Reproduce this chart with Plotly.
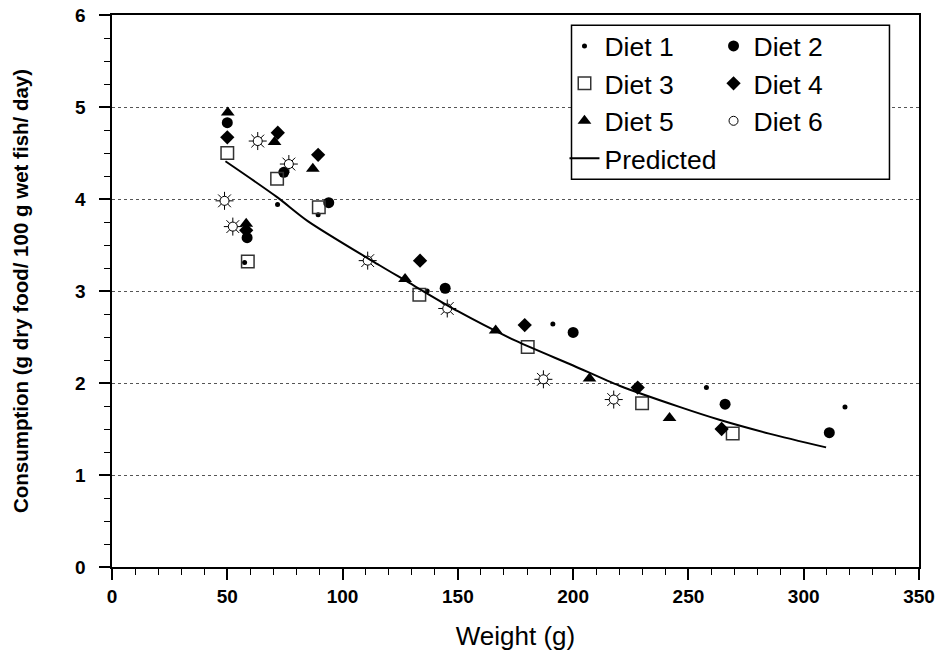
import plotly.graph_objects as go

# ---- data ----
diet1_x = [57.5, 71.8, 89.4, 136.7, 191.2, 257.8, 317.9]
diet1_y = [3.31, 3.94, 3.83, 3.00, 2.64, 1.95, 1.74]

diet2_x = [50.0, 58.6, 74.5, 94.0, 144.5, 200.0, 265.9, 311.1]
diet2_y = [4.83, 3.58, 4.29, 3.96, 3.03, 2.55, 1.77, 1.46]

diet3_x = [50.0, 58.9, 71.6, 89.7, 133.3, 180.3, 229.9, 269.2]
diet3_y = [4.50, 3.32, 4.22, 3.91, 2.96, 2.39, 1.78, 1.45]

diet4_x = [50.0, 58.2, 71.9, 89.4, 133.6, 179.0, 228.0, 264.4]
diet4_y = [4.67, 3.66, 4.72, 4.48, 3.33, 2.63, 1.95, 1.50]

diet5_x = [50.2, 58.2, 70.5, 87.1, 127.1, 166.4, 207.1, 241.8]
diet5_y = [4.94, 3.73, 4.62, 4.33, 3.13, 2.57, 2.05, 1.62]

diet6_x = [48.8, 52.4, 63.2, 76.7, 110.9, 145.4, 187.1, 217.6]
diet6_y = [3.98, 3.70, 4.63, 4.38, 3.33, 2.81, 2.04, 1.82]

pred_x = [49.2, 71.6, 84.9, 116.0, 126.8, 150.0, 175.0, 200.0, 220.1, 246.1, 263.4, 285.0, 309.7]
pred_y = [4.41, 4.02, 3.76, 3.28, 3.12, 2.78, 2.46, 2.19, 1.97, 1.74, 1.60, 1.45, 1.30]

x_ticks = [0, 50, 100, 150, 200, 250, 300, 350]
y_ticks = [0, 1, 2, 3, 4, 5, 6]

FONT = "Arial, 'Liberation Sans', sans-serif"

fig = go.Figure()

def add(x, y, name, symbol, size, legend, color="black", lw=0, show=True, group=None):
    fig.add_trace(go.Scatter(
        x=x, y=y, mode="markers", name=name, showlegend=show,
        legend=legend, legendgroup=group or name,
        marker=dict(symbol=symbol, size=size, color=color,
                    line=dict(color="black", width=lw)),
    ))

add(diet1_x, diet1_y, "Diet 1", "circle", 5, "legend")
add(diet2_x, diet2_y, "Diet 2", "circle", 11, "legend2")
add(diet3_x, diet3_y, "Diet 3", "square-open", 12.5, "legend", color="#333333", lw=1.5)
add(diet4_x, diet4_y, "Diet 4", "diamond", 11, "legend2")
add(diet5_x, diet5_y, "Diet 5", "triangle-up", 12, "legend")
# sun symbol: rays underneath, circle on top
add(diet6_x, diet6_y, "Diet 6 rays", "asterisk-open", 15, "legend2", lw=1, show=False, group="Diet 6")
add(diet6_x, diet6_y, "Diet 6", "circle", 9, "legend2", color="white", lw=1)

fig.add_trace(go.Scatter(
    x=pred_x, y=pred_y, mode="lines", name="Predicted",
    legend="legend", legendgroup="Predicted",
    line=dict(color="black", width=2, shape="spline", smoothing=0.8),
))

leg_common = dict(
    orientation="v", yanchor="top", xanchor="left",
    bgcolor="rgba(0,0,0,0)", borderwidth=0,
    font=dict(family=FONT, size=26.5, color="black"),
    traceorder="grouped", tracegroupgap=0,
)

fig.update_layout(
    width=947, height=661,
    margin=dict(l=112, r=28, t=15, b=94, autoexpand=False),
    paper_bgcolor="white", plot_bgcolor="white",
    font=dict(family=FONT, color="black"),
    showlegend=True,
    legend=dict(x=0.5607, y=0.987, **leg_common),
    legend2=dict(x=0.7454, y=0.987, **leg_common),
    shapes=[dict(
        type="rect", xref="paper", yref="paper",
        x0=0.5694, x1=0.9634, y0=0.7024, y1=0.9813,
        fillcolor="white", line=dict(color="black", width=1.5), layer="above",
    )],
)

fig.update_xaxes(
    range=[0, 350], tickvals=x_ticks, ticktext=[str(v) for v in x_ticks],
    ticks="outside", ticklen=11, tickwidth=1.5, tickcolor="black",
    minor=dict(dtick=10, ticks="outside", ticklen=6, tickwidth=1.2, tickcolor="black", showgrid=False),
    showline=True, linecolor="black", linewidth=2, mirror=True,
    showgrid=False, zeroline=False, automargin=False,
    tickfont=dict(family=FONT, size=19, weight="bold"),
    title=dict(text="Weight (g)", font=dict(family=FONT, size=26), standoff=21),
)

fig.update_yaxes(
    range=[0, 6], tickvals=y_ticks, ticktext=[str(v) + "\u2002" for v in y_ticks],
    ticks="outside", ticklen=11, tickwidth=1.5, tickcolor="black",
    minor=dict(dtick=0.25, ticks="outside", ticklen=6, tickwidth=1.2, tickcolor="black", showgrid=False),
    showline=True, linecolor="black", linewidth=2, mirror=True,
    showgrid=True, gridcolor="#555555", gridwidth=1, griddash="dot",
    zeroline=False, automargin=False,
    tickfont=dict(family=FONT, size=19, weight="bold"),
    title=dict(text="Consumption (g dry food/ 100 g wet fish/ day)",
               font=dict(family=FONT, size=20.5, weight="bold"), standoff=41),
)

fig.write_html("out.html", post_script="document.body.style.margin='0';",
               config={"displayModeBar": False})
